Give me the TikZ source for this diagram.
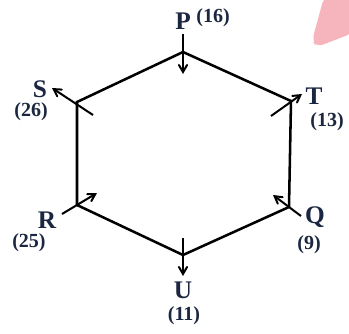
\documentclass[tikz,border=0pt]{standalone}
\usepackage{fontspec}
\setmainfont{Liberation Serif}
\usepackage{xcolor}
\usetikzlibrary{arrows, positioning}
\definecolor{labelnavy}{HTML}{1B2640}
\definecolor{markpink}{HTML}{F6B5BD}

\begin{document}
\begin{tikzpicture}[x=0.75pt, y=-0.75pt]

			% --- STYLES ---
			\tikzstyle{side} = [line width=1.9pt, line join=miter]
			\tikzstyle{arrow} = [line width=1.5pt, ->, >=angle 60]
			\tikzstyle{letter} = [inner sep=0pt, text=labelnavy, font=\fontsize{19}{19}\selectfont\bfseries]
			\tikzstyle{weight} = [inner sep=0pt, text=labelnavy, font=\fontsize{15}{15}\selectfont\bfseries]

			\useasboundingbox (0,0) rectangle (349,333);

			% corner mark
			\fill[markpink, rounded corners=5pt] (324,-3) -- (353,-3) -- (353,33) -- (317,47) -- (312,41) -- cycle;

			% --- VERTICES ---
			\coordinate (P) at (183,52);
			\coordinate (T) at (291,101);
			\coordinate (Q) at (289,207);
			\coordinate (U) at (183,255);
			\coordinate (R) at (77,205);
			\coordinate (S) at (77,102);

			\draw [side] (P) -- (T) -- (Q) -- (U) -- (R) -- (S) -- cycle;

			% --- LABELS ---
			\node (pname) [letter] at (183,21) {P};
			\node (pval) [weight] at (213,18) {(16)};
			\node (tname) [letter] at (314,96) {T};
			\node (tval) [weight] at (327,122) {(13)};
			\node (sname) [letter] at (40,89) {S};
			\node (sval) [weight] at (31,112) {(26)};
			\node (rname) [letter] at (47,220) {R};
			\node (rval) [weight] at (29,243) {(25)};
			\node (qname) [letter] at (315,217) {Q};
			\node (qval) [weight] at (309,245) {(9)};
			\node (uname) [letter] at (183,290) {U};
			\node (uval) [weight] at (184,316) {(11)};

			% --- ARROWS ---
			\coordinate (p0) at (183,34);  \coordinate (p1) at (183,74);
			\coordinate (t0) at (271,116); \coordinate (t1) at (302,94);
			\coordinate (s0) at (93,115);  \coordinate (s1) at (52,88);
			\coordinate (r0) at (62,214);  \coordinate (r1) at (97,193);
			\coordinate (q0) at (301,216); \coordinate (q1) at (273,195);
			\coordinate (u0) at (183,238); \coordinate (u1) at (183,276);

			\draw [arrow] (p0) -- (p1);
			\draw [arrow] (t0) -- (t1);
			\draw [arrow] (s0) -- (s1);
			\draw [arrow] (r0) -- (r1);
			\draw [arrow] (q0) -- (q1);
			\draw [arrow] (u0) -- (u1);

		\end{tikzpicture}
\end{document}
